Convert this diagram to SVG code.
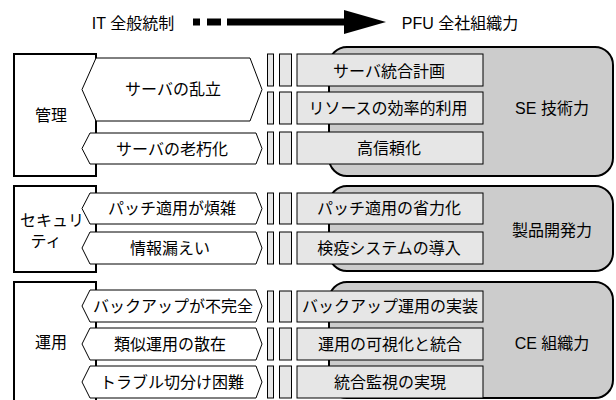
<svg xmlns="http://www.w3.org/2000/svg" width="616" height="400" viewBox="0 0 616 400">
<style>
text{font-family:"Liberation Sans","Noto Sans CJK JP",sans-serif;font-size:16px;fill:#000;text-anchor:middle}
.cat{fill:#fff;stroke:#000;stroke-width:2}
.cap{fill:#cccccc;stroke:#000;stroke-width:2}
.hex{fill:#fff;stroke:#000;stroke-width:1}
.bar{fill:#e6e6e6;stroke:#000;stroke-width:1}
.sol{fill:#e6e6e6;stroke:#000;stroke-width:1}
</style>
<rect width="616" height="400" fill="#fff"/>
<g id="header">
<text x="133" y="29">IT 全般統制</text>
<text x="460" y="29">PFU 全社組織力</text>
</g>
<g id="connectors">
<rect x="193" y="18.5" width="7" height="7" fill="#000"/>
<rect x="207" y="18.5" width="14" height="7" fill="#000"/>
<rect x="227" y="18.5" width="118" height="7" fill="#000"/>
<polygon points="344,10 386,22 344,34" fill="#000"/>
</g>
<g id="cap-se">
<rect class="cap" x="329" y="47" width="284" height="129" rx="18"/>
<text x="552" y="114">SE 技術力</text>
</g>
<g id="cap-dev">
<rect class="cap" x="329" y="186" width="284" height="85" rx="18"/>
<text x="552" y="236">製品開発力</text>
</g>
<g id="cap-ce">
<rect class="cap" x="329" y="282" width="284" height="116" rx="18"/>
<text x="552" y="349">CE 組織力</text>
</g>
<g id="cat-kanri">
<rect class="cat" x="14" y="54" width="82" height="122"/>
<text x="51" y="121">管理</text>
</g>
<g id="cat-sec">
<rect class="cat" x="14" y="186" width="82" height="86"/>
<text x="52" y="226">セキュリ</text>
<text x="46" y="247">ティ</text>
</g>
<g id="cat-ops">
<rect class="cat" x="14" y="282" width="82" height="130"/>
<text x="51" y="348">運用</text>
</g>
<g id="issue-1">
<polygon class="hex" points="96,58 250,58 262,89.5 250,121 96,121 82,89.5"/>
<text x="173" y="95">サーバの乱立</text>
</g>
<g id="issue-2">
<polygon class="hex" points="90,133 256,133 262,148.5 256,164 90,164 82,148.5"/>
<text x="172" y="154.5">サーバの老朽化</text>
</g>
<g id="issue-3">
<polygon class="hex" points="90,193 256,193 262,208.5 256,224 90,224 82,208.5"/>
<text x="172" y="214">パッチ適用が煩雑</text>
</g>
<g id="issue-4">
<polygon class="hex" points="90,232 256,232 262,248 256,264 90,264 82,248"/>
<text x="170" y="254">情報漏えい</text>
</g>
<g id="issue-5">
<polygon class="hex" points="90,290 256,290 262,306 256,322 90,322 82,306"/>
<text x="173" y="312">バックアップが不完全</text>
</g>
<g id="issue-6">
<polygon class="hex" points="90,328 256,328 262,344 256,360 90,360 82,344"/>
<text x="170" y="349.5">類似運用の散在</text>
</g>
<g id="issue-7">
<polygon class="hex" points="90,366 256,366 262,382 256,398 90,398 82,382"/>
<text x="172" y="387.5">トラブル切分け困難</text>
</g>
<g id="bars">
<rect class="bar" x="267.5" y="54" width="6" height="32"/><rect class="bar" x="279.5" y="54" width="12" height="32"/>
<rect class="bar" x="267.5" y="92" width="6" height="32"/><rect class="bar" x="279.5" y="92" width="12" height="32"/>
<rect class="bar" x="267.5" y="132" width="6" height="32"/><rect class="bar" x="279.5" y="132" width="12" height="32"/>
<rect class="bar" x="267.5" y="193" width="6" height="31"/><rect class="bar" x="279.5" y="193" width="12" height="31"/>
<rect class="bar" x="267.5" y="232" width="6" height="32"/><rect class="bar" x="279.5" y="232" width="12" height="32"/>
<rect class="bar" x="267.5" y="291" width="6" height="31"/><rect class="bar" x="279.5" y="291" width="12" height="31"/>
<rect class="bar" x="267.5" y="328" width="6" height="32"/><rect class="bar" x="279.5" y="328" width="12" height="32"/>
<rect class="bar" x="267.5" y="366" width="6" height="32"/><rect class="bar" x="279.5" y="366" width="12" height="32"/>
</g>
<g id="sol-1"><rect class="sol" x="297" y="54" width="186" height="32"/><text x="389" y="77">サーバ統合計画</text></g>
<g id="sol-2"><rect class="sol" x="297" y="92" width="186" height="32"/><text x="388" y="114">リソースの効率的利用</text></g>
<g id="sol-3"><rect class="sol" x="297" y="132" width="186" height="32"/><text x="389" y="154">高信頼化</text></g>
<g id="sol-4"><rect class="sol" x="297" y="193" width="186" height="31"/><text x="389" y="214">パッチ適用の省力化</text></g>
<g id="sol-5"><rect class="sol" x="297" y="232" width="186" height="32"/><text x="389" y="254">検疫システムの導入</text></g>
<g id="sol-6"><rect class="sol" x="297" y="291" width="186" height="31"/><text x="390" y="312">バックアップ運用の実装</text></g>
<g id="sol-7"><rect class="sol" x="297" y="328" width="186" height="32"/><text x="390" y="349.5">運用の可視化と統合</text></g>
<g id="sol-8"><rect class="sol" x="297" y="366" width="186" height="32"/><text x="390" y="387.5">統合監視の実現</text></g>
</svg>
